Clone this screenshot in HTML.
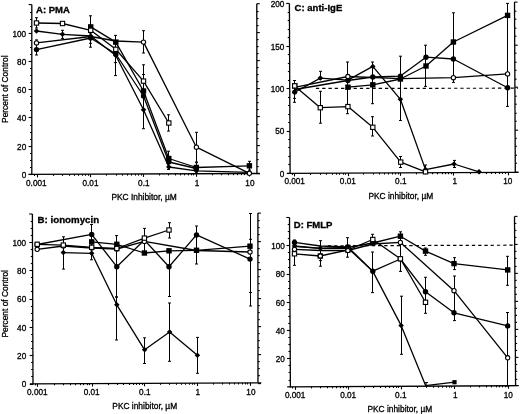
<!DOCTYPE html>
<html><head><meta charset="utf-8"><style>
html,body{margin:0;padding:0;background:#fff;width:520px;height:414px;overflow:hidden}
svg{display:block;will-change:transform}
text{font-family:"Liberation Sans",sans-serif}
</style></head><body>
<svg width="520" height="414" viewBox="0 0 520 414">
<rect width="520" height="414" fill="#fff"/>
<g stroke="#000" stroke-linecap="butt">
<line x1="31.8" y1="4.6" x2="31.8" y2="175" stroke-width="1.3"/>
<line x1="28.6" y1="174.41" x2="259.8" y2="173.49" stroke-width="1.3"/>
<line x1="256.8" y1="3.7" x2="256.9" y2="173.5" stroke-width="1.3"/>
<line x1="28.6" y1="174.5" x2="31.8" y2="174.5" stroke-width="1.1"/>
<line x1="256.9" y1="173.6" x2="259.9" y2="173.6" stroke-width="1.1"/>
<line x1="30" y1="167.5" x2="31.8" y2="167.5" stroke-width="1.1"/>
<line x1="256.9" y1="166.6" x2="258.7" y2="166.6" stroke-width="1.1"/>
<line x1="30" y1="160.5" x2="31.8" y2="160.5" stroke-width="1.1"/>
<line x1="256.89" y1="159.6" x2="258.69" y2="159.6" stroke-width="1.1"/>
<line x1="30" y1="153.5" x2="31.8" y2="153.5" stroke-width="1.1"/>
<line x1="256.89" y1="152.6" x2="258.69" y2="152.6" stroke-width="1.1"/>
<line x1="28.6" y1="146.5" x2="31.8" y2="146.5" stroke-width="1.1"/>
<line x1="256.88" y1="145.6" x2="259.88" y2="145.6" stroke-width="1.1"/>
<line x1="30" y1="139.5" x2="31.8" y2="139.5" stroke-width="1.1"/>
<line x1="256.88" y1="138.6" x2="258.68" y2="138.6" stroke-width="1.1"/>
<line x1="30" y1="132.5" x2="31.8" y2="132.5" stroke-width="1.1"/>
<line x1="256.87" y1="131.6" x2="258.67" y2="131.6" stroke-width="1.1"/>
<line x1="30" y1="125.5" x2="31.8" y2="125.5" stroke-width="1.1"/>
<line x1="256.87" y1="124.6" x2="258.67" y2="124.6" stroke-width="1.1"/>
<line x1="28.6" y1="117.5" x2="31.8" y2="117.5" stroke-width="1.1"/>
<line x1="256.87" y1="116.6" x2="259.87" y2="116.6" stroke-width="1.1"/>
<line x1="30" y1="110.5" x2="31.8" y2="110.5" stroke-width="1.1"/>
<line x1="256.86" y1="109.6" x2="258.66" y2="109.6" stroke-width="1.1"/>
<line x1="30" y1="103.5" x2="31.8" y2="103.5" stroke-width="1.1"/>
<line x1="256.86" y1="102.6" x2="258.66" y2="102.6" stroke-width="1.1"/>
<line x1="30" y1="96.5" x2="31.8" y2="96.5" stroke-width="1.1"/>
<line x1="256.85" y1="95.6" x2="258.65" y2="95.6" stroke-width="1.1"/>
<line x1="28.6" y1="89.5" x2="31.8" y2="89.5" stroke-width="1.1"/>
<line x1="256.85" y1="88.6" x2="259.85" y2="88.6" stroke-width="1.1"/>
<line x1="30" y1="82.5" x2="31.8" y2="82.5" stroke-width="1.1"/>
<line x1="256.85" y1="81.6" x2="258.65" y2="81.6" stroke-width="1.1"/>
<line x1="30" y1="75.5" x2="31.8" y2="75.5" stroke-width="1.1"/>
<line x1="256.84" y1="74.6" x2="258.64" y2="74.6" stroke-width="1.1"/>
<line x1="30" y1="68.5" x2="31.8" y2="68.5" stroke-width="1.1"/>
<line x1="256.84" y1="67.6" x2="258.64" y2="67.6" stroke-width="1.1"/>
<line x1="28.6" y1="61.5" x2="31.8" y2="61.5" stroke-width="1.1"/>
<line x1="256.83" y1="60.6" x2="259.83" y2="60.6" stroke-width="1.1"/>
<line x1="30" y1="54.5" x2="31.8" y2="54.5" stroke-width="1.1"/>
<line x1="256.83" y1="53.6" x2="258.63" y2="53.6" stroke-width="1.1"/>
<line x1="30" y1="47.5" x2="31.8" y2="47.5" stroke-width="1.1"/>
<line x1="256.82" y1="46.6" x2="258.62" y2="46.6" stroke-width="1.1"/>
<line x1="30" y1="40.5" x2="31.8" y2="40.5" stroke-width="1.1"/>
<line x1="256.82" y1="39.6" x2="258.62" y2="39.6" stroke-width="1.1"/>
<line x1="28.6" y1="33.5" x2="31.8" y2="33.5" stroke-width="1.1"/>
<line x1="256.82" y1="32.6" x2="259.82" y2="32.6" stroke-width="1.1"/>
<line x1="30" y1="26.5" x2="31.8" y2="26.5" stroke-width="1.1"/>
<line x1="256.81" y1="25.6" x2="258.61" y2="25.6" stroke-width="1.1"/>
<line x1="30" y1="19.5" x2="31.8" y2="19.5" stroke-width="1.1"/>
<line x1="256.81" y1="18.6" x2="258.61" y2="18.6" stroke-width="1.1"/>
<line x1="30" y1="12.5" x2="31.8" y2="12.5" stroke-width="1.1"/>
<line x1="256.8" y1="11.6" x2="258.6" y2="11.6" stroke-width="1.1"/>
<line x1="28.6" y1="4.6" x2="31.8" y2="4.6" stroke-width="1.1"/>
<line x1="256.8" y1="3.7" x2="259.8" y2="3.7" stroke-width="1.1"/>
<line x1="34.5" y1="174.39" x2="34.5" y2="175.99" stroke-width="1.1"/>
<line x1="37.5" y1="174.38" x2="37.5" y2="177.38" stroke-width="1.1"/>
<line x1="53.5" y1="174.31" x2="53.5" y2="175.91" stroke-width="1.1"/>
<line x1="62.5" y1="174.28" x2="62.5" y2="175.88" stroke-width="1.1"/>
<line x1="69.5" y1="174.25" x2="69.5" y2="175.85" stroke-width="1.1"/>
<line x1="74.5" y1="174.23" x2="74.5" y2="175.83" stroke-width="1.1"/>
<line x1="78.5" y1="174.21" x2="78.5" y2="175.81" stroke-width="1.1"/>
<line x1="82.5" y1="174.2" x2="82.5" y2="175.8" stroke-width="1.1"/>
<line x1="85.5" y1="174.19" x2="85.5" y2="175.79" stroke-width="1.1"/>
<line x1="88.5" y1="174.17" x2="88.5" y2="175.77" stroke-width="1.1"/>
<line x1="90.5" y1="174.17" x2="90.5" y2="177.17" stroke-width="1.1"/>
<line x1="106.5" y1="174.1" x2="106.5" y2="175.7" stroke-width="1.1"/>
<line x1="116.5" y1="174.06" x2="116.5" y2="175.66" stroke-width="1.1"/>
<line x1="122.5" y1="174.04" x2="122.5" y2="175.64" stroke-width="1.1"/>
<line x1="127.5" y1="174.02" x2="127.5" y2="175.62" stroke-width="1.1"/>
<line x1="131.5" y1="174" x2="131.5" y2="175.6" stroke-width="1.1"/>
<line x1="135.5" y1="173.99" x2="135.5" y2="175.59" stroke-width="1.1"/>
<line x1="138.5" y1="173.97" x2="138.5" y2="175.57" stroke-width="1.1"/>
<line x1="141.5" y1="173.96" x2="141.5" y2="175.56" stroke-width="1.1"/>
<line x1="143.5" y1="173.95" x2="143.5" y2="176.95" stroke-width="1.1"/>
<line x1="159.5" y1="173.89" x2="159.5" y2="175.49" stroke-width="1.1"/>
<line x1="168.5" y1="173.85" x2="168.5" y2="175.45" stroke-width="1.1"/>
<line x1="175.5" y1="173.83" x2="175.5" y2="175.43" stroke-width="1.1"/>
<line x1="180.5" y1="173.81" x2="180.5" y2="175.41" stroke-width="1.1"/>
<line x1="184.5" y1="173.79" x2="184.5" y2="175.39" stroke-width="1.1"/>
<line x1="188.5" y1="173.77" x2="188.5" y2="175.37" stroke-width="1.1"/>
<line x1="191.5" y1="173.76" x2="191.5" y2="175.36" stroke-width="1.1"/>
<line x1="193.5" y1="173.75" x2="193.5" y2="175.35" stroke-width="1.1"/>
<line x1="196.5" y1="173.74" x2="196.5" y2="176.74" stroke-width="1.1"/>
<line x1="212.5" y1="173.68" x2="212.5" y2="175.28" stroke-width="1.1"/>
<line x1="221.5" y1="173.64" x2="221.5" y2="175.24" stroke-width="1.1"/>
<line x1="228.5" y1="173.61" x2="228.5" y2="175.21" stroke-width="1.1"/>
<line x1="233.5" y1="173.59" x2="233.5" y2="175.19" stroke-width="1.1"/>
<line x1="237.5" y1="173.58" x2="237.5" y2="175.18" stroke-width="1.1"/>
<line x1="241.5" y1="173.56" x2="241.5" y2="175.16" stroke-width="1.1"/>
<line x1="244.5" y1="173.55" x2="244.5" y2="175.15" stroke-width="1.1"/>
<line x1="247.5" y1="173.54" x2="247.5" y2="175.14" stroke-width="1.1"/>
<line x1="249.5" y1="173.53" x2="249.5" y2="176.53" stroke-width="1.1"/>
<line x1="32.4" y1="214" x2="33" y2="384.4" stroke-width="1.3"/>
<line x1="29.8" y1="383.81" x2="261.3" y2="382.79" stroke-width="1.3"/>
<line x1="257.9" y1="213.1" x2="258" y2="382.8" stroke-width="1.3"/>
<line x1="29.8" y1="384.5" x2="33" y2="384.5" stroke-width="1.1"/>
<line x1="258" y1="383.6" x2="261" y2="383.6" stroke-width="1.1"/>
<line x1="31.17" y1="376.5" x2="32.97" y2="376.5" stroke-width="1.1"/>
<line x1="258" y1="375.6" x2="259.8" y2="375.6" stroke-width="1.1"/>
<line x1="31.15" y1="369.5" x2="32.95" y2="369.5" stroke-width="1.1"/>
<line x1="257.99" y1="368.6" x2="259.79" y2="368.6" stroke-width="1.1"/>
<line x1="31.12" y1="362.5" x2="32.92" y2="362.5" stroke-width="1.1"/>
<line x1="257.99" y1="361.6" x2="259.79" y2="361.6" stroke-width="1.1"/>
<line x1="29.7" y1="355.5" x2="32.9" y2="355.5" stroke-width="1.1"/>
<line x1="257.98" y1="354.6" x2="260.98" y2="354.6" stroke-width="1.1"/>
<line x1="31.08" y1="348.5" x2="32.88" y2="348.5" stroke-width="1.1"/>
<line x1="257.98" y1="347.6" x2="259.78" y2="347.6" stroke-width="1.1"/>
<line x1="31.05" y1="341.5" x2="32.85" y2="341.5" stroke-width="1.1"/>
<line x1="257.97" y1="340.6" x2="259.77" y2="340.6" stroke-width="1.1"/>
<line x1="31.03" y1="334.5" x2="32.83" y2="334.5" stroke-width="1.1"/>
<line x1="257.97" y1="333.6" x2="259.77" y2="333.6" stroke-width="1.1"/>
<line x1="29.6" y1="327.5" x2="32.8" y2="327.5" stroke-width="1.1"/>
<line x1="257.97" y1="326.6" x2="260.97" y2="326.6" stroke-width="1.1"/>
<line x1="30.98" y1="320.5" x2="32.78" y2="320.5" stroke-width="1.1"/>
<line x1="257.96" y1="319.6" x2="259.76" y2="319.6" stroke-width="1.1"/>
<line x1="30.95" y1="313.5" x2="32.75" y2="313.5" stroke-width="1.1"/>
<line x1="257.96" y1="312.6" x2="259.76" y2="312.6" stroke-width="1.1"/>
<line x1="30.93" y1="306.5" x2="32.73" y2="306.5" stroke-width="1.1"/>
<line x1="257.95" y1="305.6" x2="259.75" y2="305.6" stroke-width="1.1"/>
<line x1="29.5" y1="299.5" x2="32.7" y2="299.5" stroke-width="1.1"/>
<line x1="257.95" y1="298.6" x2="260.95" y2="298.6" stroke-width="1.1"/>
<line x1="30.87" y1="291.5" x2="32.67" y2="291.5" stroke-width="1.1"/>
<line x1="257.95" y1="290.6" x2="259.75" y2="290.6" stroke-width="1.1"/>
<line x1="30.85" y1="284.5" x2="32.65" y2="284.5" stroke-width="1.1"/>
<line x1="257.94" y1="283.6" x2="259.74" y2="283.6" stroke-width="1.1"/>
<line x1="30.82" y1="277.5" x2="32.62" y2="277.5" stroke-width="1.1"/>
<line x1="257.94" y1="276.6" x2="259.74" y2="276.6" stroke-width="1.1"/>
<line x1="29.4" y1="270.5" x2="32.6" y2="270.5" stroke-width="1.1"/>
<line x1="257.93" y1="269.6" x2="260.93" y2="269.6" stroke-width="1.1"/>
<line x1="30.77" y1="263.5" x2="32.57" y2="263.5" stroke-width="1.1"/>
<line x1="257.93" y1="262.6" x2="259.73" y2="262.6" stroke-width="1.1"/>
<line x1="30.75" y1="256.5" x2="32.55" y2="256.5" stroke-width="1.1"/>
<line x1="257.92" y1="255.6" x2="259.72" y2="255.6" stroke-width="1.1"/>
<line x1="30.73" y1="249.5" x2="32.53" y2="249.5" stroke-width="1.1"/>
<line x1="257.92" y1="248.6" x2="259.72" y2="248.6" stroke-width="1.1"/>
<line x1="29.3" y1="242.5" x2="32.5" y2="242.5" stroke-width="1.1"/>
<line x1="257.92" y1="241.6" x2="260.92" y2="241.6" stroke-width="1.1"/>
<line x1="30.68" y1="235.5" x2="32.48" y2="235.5" stroke-width="1.1"/>
<line x1="257.91" y1="234.6" x2="259.71" y2="234.6" stroke-width="1.1"/>
<line x1="30.65" y1="228.5" x2="32.45" y2="228.5" stroke-width="1.1"/>
<line x1="257.91" y1="227.6" x2="259.71" y2="227.6" stroke-width="1.1"/>
<line x1="30.63" y1="221.5" x2="32.43" y2="221.5" stroke-width="1.1"/>
<line x1="257.9" y1="220.6" x2="259.7" y2="220.6" stroke-width="1.1"/>
<line x1="29.2" y1="214" x2="32.4" y2="214" stroke-width="1.1"/>
<line x1="257.9" y1="213.1" x2="260.9" y2="213.1" stroke-width="1.1"/>
<line x1="35.5" y1="383.79" x2="35.5" y2="385.39" stroke-width="1.1"/>
<line x1="37.5" y1="383.78" x2="37.5" y2="386.78" stroke-width="1.1"/>
<line x1="54.5" y1="383.7" x2="54.5" y2="385.3" stroke-width="1.1"/>
<line x1="63.5" y1="383.66" x2="63.5" y2="385.26" stroke-width="1.1"/>
<line x1="70.5" y1="383.63" x2="70.5" y2="385.23" stroke-width="1.1"/>
<line x1="75.5" y1="383.61" x2="75.5" y2="385.21" stroke-width="1.1"/>
<line x1="80.5" y1="383.59" x2="80.5" y2="385.19" stroke-width="1.1"/>
<line x1="83.5" y1="383.58" x2="83.5" y2="385.18" stroke-width="1.1"/>
<line x1="87.5" y1="383.56" x2="87.5" y2="385.16" stroke-width="1.1"/>
<line x1="89.5" y1="383.55" x2="89.5" y2="385.15" stroke-width="1.1"/>
<line x1="92.5" y1="383.54" x2="92.5" y2="386.54" stroke-width="1.1"/>
<line x1="108.5" y1="383.46" x2="108.5" y2="385.06" stroke-width="1.1"/>
<line x1="117.5" y1="383.42" x2="117.5" y2="385.02" stroke-width="1.1"/>
<line x1="123.5" y1="383.4" x2="123.5" y2="385" stroke-width="1.1"/>
<line x1="129.5" y1="383.37" x2="129.5" y2="384.97" stroke-width="1.1"/>
<line x1="133.5" y1="383.35" x2="133.5" y2="384.95" stroke-width="1.1"/>
<line x1="136.5" y1="383.34" x2="136.5" y2="384.94" stroke-width="1.1"/>
<line x1="139.5" y1="383.33" x2="139.5" y2="384.93" stroke-width="1.1"/>
<line x1="142.5" y1="383.31" x2="142.5" y2="384.91" stroke-width="1.1"/>
<line x1="144.5" y1="383.3" x2="144.5" y2="386.3" stroke-width="1.1"/>
<line x1="160.5" y1="383.23" x2="160.5" y2="384.83" stroke-width="1.1"/>
<line x1="169.5" y1="383.19" x2="169.5" y2="384.79" stroke-width="1.1"/>
<line x1="176.5" y1="383.16" x2="176.5" y2="384.76" stroke-width="1.1"/>
<line x1="181.5" y1="383.14" x2="181.5" y2="384.74" stroke-width="1.1"/>
<line x1="185.5" y1="383.12" x2="185.5" y2="384.72" stroke-width="1.1"/>
<line x1="189.5" y1="383.1" x2="189.5" y2="384.7" stroke-width="1.1"/>
<line x1="192.5" y1="383.09" x2="192.5" y2="384.69" stroke-width="1.1"/>
<line x1="194.5" y1="383.08" x2="194.5" y2="384.68" stroke-width="1.1"/>
<line x1="197.5" y1="383.07" x2="197.5" y2="386.07" stroke-width="1.1"/>
<line x1="213.5" y1="383" x2="213.5" y2="384.6" stroke-width="1.1"/>
<line x1="222.5" y1="382.96" x2="222.5" y2="384.56" stroke-width="1.1"/>
<line x1="229.5" y1="382.93" x2="229.5" y2="384.53" stroke-width="1.1"/>
<line x1="234.5" y1="382.9" x2="234.5" y2="384.5" stroke-width="1.1"/>
<line x1="238.5" y1="382.89" x2="238.5" y2="384.49" stroke-width="1.1"/>
<line x1="242.5" y1="382.87" x2="242.5" y2="384.47" stroke-width="1.1"/>
<line x1="245.5" y1="382.86" x2="245.5" y2="384.46" stroke-width="1.1"/>
<line x1="247.5" y1="382.85" x2="247.5" y2="384.45" stroke-width="1.1"/>
<line x1="250.5" y1="382.83" x2="250.5" y2="385.83" stroke-width="1.1"/>
<line x1="289.4" y1="3.4" x2="290.1" y2="174" stroke-width="1.3"/>
<line x1="286.9" y1="173.42" x2="518.6" y2="172.28" stroke-width="1.3"/>
<line x1="514.5" y1="2.1" x2="515.3" y2="172.3" stroke-width="1.3"/>
<line x1="286.9" y1="173.5" x2="290.1" y2="173.5" stroke-width="1.1"/>
<line x1="515.29" y1="172.2" x2="518.29" y2="172.2" stroke-width="1.1"/>
<line x1="288.26" y1="164.5" x2="290.06" y2="164.5" stroke-width="1.1"/>
<line x1="515.25" y1="163.2" x2="517.05" y2="163.2" stroke-width="1.1"/>
<line x1="288.23" y1="156.5" x2="290.03" y2="156.5" stroke-width="1.1"/>
<line x1="515.21" y1="155.2" x2="517.01" y2="155.2" stroke-width="1.1"/>
<line x1="288.19" y1="147.5" x2="289.99" y2="147.5" stroke-width="1.1"/>
<line x1="515.17" y1="146.2" x2="516.97" y2="146.2" stroke-width="1.1"/>
<line x1="288.16" y1="139.5" x2="289.96" y2="139.5" stroke-width="1.1"/>
<line x1="515.13" y1="138.2" x2="516.93" y2="138.2" stroke-width="1.1"/>
<line x1="286.73" y1="131.5" x2="289.93" y2="131.5" stroke-width="1.1"/>
<line x1="515.1" y1="130.2" x2="518.1" y2="130.2" stroke-width="1.1"/>
<line x1="288.09" y1="122.5" x2="289.89" y2="122.5" stroke-width="1.1"/>
<line x1="515.05" y1="121.2" x2="516.85" y2="121.2" stroke-width="1.1"/>
<line x1="288.06" y1="114.5" x2="289.86" y2="114.5" stroke-width="1.1"/>
<line x1="515.02" y1="113.2" x2="516.82" y2="113.2" stroke-width="1.1"/>
<line x1="288.02" y1="105.5" x2="289.82" y2="105.5" stroke-width="1.1"/>
<line x1="514.97" y1="104.2" x2="516.77" y2="104.2" stroke-width="1.1"/>
<line x1="287.99" y1="97.5" x2="289.79" y2="97.5" stroke-width="1.1"/>
<line x1="514.94" y1="96.2" x2="516.74" y2="96.2" stroke-width="1.1"/>
<line x1="286.55" y1="88.5" x2="289.75" y2="88.5" stroke-width="1.1"/>
<line x1="514.89" y1="87.2" x2="517.89" y2="87.2" stroke-width="1.1"/>
<line x1="287.92" y1="80.5" x2="289.72" y2="80.5" stroke-width="1.1"/>
<line x1="514.86" y1="79.2" x2="516.66" y2="79.2" stroke-width="1.1"/>
<line x1="287.88" y1="71.5" x2="289.68" y2="71.5" stroke-width="1.1"/>
<line x1="514.81" y1="70.2" x2="516.61" y2="70.2" stroke-width="1.1"/>
<line x1="287.85" y1="63.5" x2="289.65" y2="63.5" stroke-width="1.1"/>
<line x1="514.78" y1="62.2" x2="516.58" y2="62.2" stroke-width="1.1"/>
<line x1="287.81" y1="54.5" x2="289.61" y2="54.5" stroke-width="1.1"/>
<line x1="514.73" y1="53.2" x2="516.53" y2="53.2" stroke-width="1.1"/>
<line x1="286.38" y1="46.5" x2="289.58" y2="46.5" stroke-width="1.1"/>
<line x1="514.7" y1="45.2" x2="517.7" y2="45.2" stroke-width="1.1"/>
<line x1="287.74" y1="37.5" x2="289.54" y2="37.5" stroke-width="1.1"/>
<line x1="514.65" y1="36.2" x2="516.45" y2="36.2" stroke-width="1.1"/>
<line x1="287.71" y1="29.5" x2="289.51" y2="29.5" stroke-width="1.1"/>
<line x1="514.62" y1="28.2" x2="516.42" y2="28.2" stroke-width="1.1"/>
<line x1="287.67" y1="20.5" x2="289.47" y2="20.5" stroke-width="1.1"/>
<line x1="514.57" y1="19.2" x2="516.37" y2="19.2" stroke-width="1.1"/>
<line x1="287.64" y1="12.5" x2="289.44" y2="12.5" stroke-width="1.1"/>
<line x1="514.54" y1="11.2" x2="516.34" y2="11.2" stroke-width="1.1"/>
<line x1="286.2" y1="3.4" x2="289.4" y2="3.4" stroke-width="1.1"/>
<line x1="514.5" y1="2.1" x2="517.5" y2="2.1" stroke-width="1.1"/>
<line x1="292.5" y1="173.39" x2="292.5" y2="174.99" stroke-width="1.1"/>
<line x1="294.5" y1="173.38" x2="294.5" y2="176.38" stroke-width="1.1"/>
<line x1="310.5" y1="173.3" x2="310.5" y2="174.9" stroke-width="1.1"/>
<line x1="320.5" y1="173.25" x2="320.5" y2="174.85" stroke-width="1.1"/>
<line x1="326.5" y1="173.22" x2="326.5" y2="174.82" stroke-width="1.1"/>
<line x1="332.5" y1="173.19" x2="332.5" y2="174.79" stroke-width="1.1"/>
<line x1="336.5" y1="173.17" x2="336.5" y2="174.77" stroke-width="1.1"/>
<line x1="339.5" y1="173.16" x2="339.5" y2="174.76" stroke-width="1.1"/>
<line x1="343.5" y1="173.14" x2="343.5" y2="174.74" stroke-width="1.1"/>
<line x1="345.5" y1="173.13" x2="345.5" y2="174.73" stroke-width="1.1"/>
<line x1="348.5" y1="173.11" x2="348.5" y2="176.11" stroke-width="1.1"/>
<line x1="363.5" y1="173.04" x2="363.5" y2="174.64" stroke-width="1.1"/>
<line x1="373.5" y1="172.99" x2="373.5" y2="174.59" stroke-width="1.1"/>
<line x1="379.5" y1="172.96" x2="379.5" y2="174.56" stroke-width="1.1"/>
<line x1="384.5" y1="172.94" x2="384.5" y2="174.54" stroke-width="1.1"/>
<line x1="388.5" y1="172.92" x2="388.5" y2="174.52" stroke-width="1.1"/>
<line x1="392.5" y1="172.9" x2="392.5" y2="174.5" stroke-width="1.1"/>
<line x1="395.5" y1="172.89" x2="395.5" y2="174.49" stroke-width="1.1"/>
<line x1="398.5" y1="172.87" x2="398.5" y2="174.47" stroke-width="1.1"/>
<line x1="400.5" y1="172.86" x2="400.5" y2="175.86" stroke-width="1.1"/>
<line x1="416.5" y1="172.78" x2="416.5" y2="174.38" stroke-width="1.1"/>
<line x1="425.5" y1="172.74" x2="425.5" y2="174.34" stroke-width="1.1"/>
<line x1="432.5" y1="172.7" x2="432.5" y2="174.3" stroke-width="1.1"/>
<line x1="437.5" y1="172.68" x2="437.5" y2="174.28" stroke-width="1.1"/>
<line x1="442.5" y1="172.66" x2="442.5" y2="174.26" stroke-width="1.1"/>
<line x1="445.5" y1="172.64" x2="445.5" y2="174.24" stroke-width="1.1"/>
<line x1="448.5" y1="172.63" x2="448.5" y2="174.23" stroke-width="1.1"/>
<line x1="451.5" y1="172.61" x2="451.5" y2="174.21" stroke-width="1.1"/>
<line x1="453.5" y1="172.6" x2="453.5" y2="175.6" stroke-width="1.1"/>
<line x1="470.5" y1="172.52" x2="470.5" y2="174.12" stroke-width="1.1"/>
<line x1="479.5" y1="172.47" x2="479.5" y2="174.07" stroke-width="1.1"/>
<line x1="486.5" y1="172.44" x2="486.5" y2="174.04" stroke-width="1.1"/>
<line x1="491.5" y1="172.42" x2="491.5" y2="174.02" stroke-width="1.1"/>
<line x1="495.5" y1="172.4" x2="495.5" y2="174" stroke-width="1.1"/>
<line x1="499.5" y1="172.38" x2="499.5" y2="173.98" stroke-width="1.1"/>
<line x1="502.5" y1="172.36" x2="502.5" y2="173.96" stroke-width="1.1"/>
<line x1="505.5" y1="172.35" x2="505.5" y2="173.95" stroke-width="1.1"/>
<line x1="508.5" y1="172.33" x2="508.5" y2="175.33" stroke-width="1.1"/>
<line x1="289.5" y1="217.5" x2="290.4" y2="387.5" stroke-width="1.3"/>
<line x1="287.2" y1="386.92" x2="518.8" y2="385.68" stroke-width="1.3"/>
<line x1="514.5" y1="216.4" x2="515.6" y2="385.7" stroke-width="1.3"/>
<line x1="288.57" y1="380.5" x2="290.37" y2="380.5" stroke-width="1.1"/>
<line x1="515.55" y1="379.4" x2="517.35" y2="379.4" stroke-width="1.1"/>
<line x1="288.52" y1="372.5" x2="290.32" y2="372.5" stroke-width="1.1"/>
<line x1="515.5" y1="371.4" x2="517.3" y2="371.4" stroke-width="1.1"/>
<line x1="288.49" y1="365.5" x2="290.29" y2="365.5" stroke-width="1.1"/>
<line x1="515.45" y1="364.4" x2="517.25" y2="364.4" stroke-width="1.1"/>
<line x1="287.05" y1="358.5" x2="290.25" y2="358.5" stroke-width="1.1"/>
<line x1="515.41" y1="357.4" x2="518.41" y2="357.4" stroke-width="1.1"/>
<line x1="288.41" y1="351.5" x2="290.21" y2="351.5" stroke-width="1.1"/>
<line x1="515.36" y1="350.4" x2="517.16" y2="350.4" stroke-width="1.1"/>
<line x1="288.37" y1="344.5" x2="290.17" y2="344.5" stroke-width="1.1"/>
<line x1="515.32" y1="343.4" x2="517.12" y2="343.4" stroke-width="1.1"/>
<line x1="288.34" y1="337.5" x2="290.14" y2="337.5" stroke-width="1.1"/>
<line x1="515.27" y1="336.4" x2="517.07" y2="336.4" stroke-width="1.1"/>
<line x1="286.9" y1="330.5" x2="290.1" y2="330.5" stroke-width="1.1"/>
<line x1="515.23" y1="329.4" x2="518.23" y2="329.4" stroke-width="1.1"/>
<line x1="288.26" y1="323.5" x2="290.06" y2="323.5" stroke-width="1.1"/>
<line x1="515.18" y1="322.4" x2="516.98" y2="322.4" stroke-width="1.1"/>
<line x1="288.23" y1="316.5" x2="290.03" y2="316.5" stroke-width="1.1"/>
<line x1="515.14" y1="315.4" x2="516.94" y2="315.4" stroke-width="1.1"/>
<line x1="288.19" y1="309.5" x2="289.99" y2="309.5" stroke-width="1.1"/>
<line x1="515.09" y1="308.4" x2="516.89" y2="308.4" stroke-width="1.1"/>
<line x1="286.75" y1="302.5" x2="289.95" y2="302.5" stroke-width="1.1"/>
<line x1="515.04" y1="301.4" x2="518.04" y2="301.4" stroke-width="1.1"/>
<line x1="288.11" y1="295.5" x2="289.91" y2="295.5" stroke-width="1.1"/>
<line x1="515" y1="294.4" x2="516.8" y2="294.4" stroke-width="1.1"/>
<line x1="288.08" y1="288.5" x2="289.88" y2="288.5" stroke-width="1.1"/>
<line x1="514.95" y1="287.4" x2="516.75" y2="287.4" stroke-width="1.1"/>
<line x1="288.04" y1="281.5" x2="289.84" y2="281.5" stroke-width="1.1"/>
<line x1="514.91" y1="280.4" x2="516.71" y2="280.4" stroke-width="1.1"/>
<line x1="286.6" y1="274.5" x2="289.8" y2="274.5" stroke-width="1.1"/>
<line x1="514.86" y1="273.4" x2="517.86" y2="273.4" stroke-width="1.1"/>
<line x1="287.97" y1="267.5" x2="289.77" y2="267.5" stroke-width="1.1"/>
<line x1="514.82" y1="266.4" x2="516.62" y2="266.4" stroke-width="1.1"/>
<line x1="287.92" y1="259.5" x2="289.72" y2="259.5" stroke-width="1.1"/>
<line x1="514.77" y1="258.4" x2="516.57" y2="258.4" stroke-width="1.1"/>
<line x1="287.89" y1="252.5" x2="289.69" y2="252.5" stroke-width="1.1"/>
<line x1="514.72" y1="251.4" x2="516.52" y2="251.4" stroke-width="1.1"/>
<line x1="286.45" y1="245.5" x2="289.65" y2="245.5" stroke-width="1.1"/>
<line x1="514.67" y1="244.4" x2="517.67" y2="244.4" stroke-width="1.1"/>
<line x1="287.81" y1="238.5" x2="289.61" y2="238.5" stroke-width="1.1"/>
<line x1="514.63" y1="237.4" x2="516.43" y2="237.4" stroke-width="1.1"/>
<line x1="287.77" y1="231.5" x2="289.57" y2="231.5" stroke-width="1.1"/>
<line x1="514.58" y1="230.4" x2="516.38" y2="230.4" stroke-width="1.1"/>
<line x1="287.74" y1="224.5" x2="289.54" y2="224.5" stroke-width="1.1"/>
<line x1="514.54" y1="223.4" x2="516.34" y2="223.4" stroke-width="1.1"/>
<line x1="286.3" y1="217.5" x2="289.5" y2="217.5" stroke-width="1.1"/>
<line x1="514.5" y1="216.4" x2="517.5" y2="216.4" stroke-width="1.1"/>
<line x1="292.5" y1="386.89" x2="292.5" y2="388.49" stroke-width="1.1"/>
<line x1="295.5" y1="386.87" x2="295.5" y2="389.87" stroke-width="1.1"/>
<line x1="311.5" y1="386.79" x2="311.5" y2="388.39" stroke-width="1.1"/>
<line x1="320.5" y1="386.74" x2="320.5" y2="388.34" stroke-width="1.1"/>
<line x1="327.5" y1="386.7" x2="327.5" y2="388.3" stroke-width="1.1"/>
<line x1="332.5" y1="386.68" x2="332.5" y2="388.28" stroke-width="1.1"/>
<line x1="336.5" y1="386.65" x2="336.5" y2="388.25" stroke-width="1.1"/>
<line x1="340.5" y1="386.63" x2="340.5" y2="388.23" stroke-width="1.1"/>
<line x1="343.5" y1="386.62" x2="343.5" y2="388.22" stroke-width="1.1"/>
<line x1="346.5" y1="386.6" x2="346.5" y2="388.2" stroke-width="1.1"/>
<line x1="348.5" y1="386.59" x2="348.5" y2="389.59" stroke-width="1.1"/>
<line x1="364.5" y1="386.51" x2="364.5" y2="388.11" stroke-width="1.1"/>
<line x1="373.5" y1="386.46" x2="373.5" y2="388.06" stroke-width="1.1"/>
<line x1="380.5" y1="386.42" x2="380.5" y2="388.02" stroke-width="1.1"/>
<line x1="385.5" y1="386.39" x2="385.5" y2="387.99" stroke-width="1.1"/>
<line x1="389.5" y1="386.37" x2="389.5" y2="387.97" stroke-width="1.1"/>
<line x1="393.5" y1="386.35" x2="393.5" y2="387.95" stroke-width="1.1"/>
<line x1="396.5" y1="386.33" x2="396.5" y2="387.93" stroke-width="1.1"/>
<line x1="398.5" y1="386.32" x2="398.5" y2="387.92" stroke-width="1.1"/>
<line x1="401.5" y1="386.31" x2="401.5" y2="389.31" stroke-width="1.1"/>
<line x1="417.5" y1="386.22" x2="417.5" y2="387.82" stroke-width="1.1"/>
<line x1="426.5" y1="386.17" x2="426.5" y2="387.77" stroke-width="1.1"/>
<line x1="433.5" y1="386.14" x2="433.5" y2="387.74" stroke-width="1.1"/>
<line x1="438.5" y1="386.11" x2="438.5" y2="387.71" stroke-width="1.1"/>
<line x1="442.5" y1="386.09" x2="442.5" y2="387.69" stroke-width="1.1"/>
<line x1="446.5" y1="386.07" x2="446.5" y2="387.67" stroke-width="1.1"/>
<line x1="449.5" y1="386.05" x2="449.5" y2="387.65" stroke-width="1.1"/>
<line x1="451.5" y1="386.04" x2="451.5" y2="387.64" stroke-width="1.1"/>
<line x1="454.5" y1="386.03" x2="454.5" y2="389.03" stroke-width="1.1"/>
<line x1="470.5" y1="385.94" x2="470.5" y2="387.54" stroke-width="1.1"/>
<line x1="479.5" y1="385.89" x2="479.5" y2="387.49" stroke-width="1.1"/>
<line x1="486.5" y1="385.86" x2="486.5" y2="387.46" stroke-width="1.1"/>
<line x1="491.5" y1="385.83" x2="491.5" y2="387.43" stroke-width="1.1"/>
<line x1="496.5" y1="385.8" x2="496.5" y2="387.4" stroke-width="1.1"/>
<line x1="499.5" y1="385.79" x2="499.5" y2="387.39" stroke-width="1.1"/>
<line x1="502.5" y1="385.77" x2="502.5" y2="387.37" stroke-width="1.1"/>
<line x1="505.5" y1="385.75" x2="505.5" y2="387.35" stroke-width="1.1"/>
<line x1="508.5" y1="385.74" x2="508.5" y2="388.74" stroke-width="1.1"/>
</g>
<g font-family="Liberation Sans, sans-serif" fill="#000" stroke="#000" stroke-width="0.3">
<text x="0" y="0" font-size="9" font-weight="bold" transform="translate(36 13.3) scale(1.06 1)">A: PMA</text>
<text x="0" y="0" font-size="9" font-weight="bold" transform="translate(37.6 223.2) scale(1.08 1)">B: ionomycin</text>
<text x="0" y="0" font-size="9" font-weight="bold" transform="translate(294.6 11.2) scale(1.06 1)">C: anti-IgE</text>
<text x="0" y="0" font-size="9" font-weight="bold" transform="translate(293.8 228.2) scale(1.06 1)">D: FMLP</text>
<text x="26.2" y="177.75" font-size="8.2" text-anchor="end" font-weight="normal">0</text>
<text x="26.2" y="149.5" font-size="8.2" text-anchor="end" font-weight="normal">20</text>
<text x="26.2" y="121.25" font-size="8.2" text-anchor="end" font-weight="normal">40</text>
<text x="26.2" y="93" font-size="8.2" text-anchor="end" font-weight="normal">60</text>
<text x="26.2" y="64.75" font-size="8.2" text-anchor="end" font-weight="normal">80</text>
<text x="26.2" y="36.5" font-size="8.2" text-anchor="end" font-weight="normal">100</text>
<text x="26.2" y="387.3" font-size="8.2" text-anchor="end" font-weight="normal">0</text>
<text x="26.2" y="358.98" font-size="8.2" text-anchor="end" font-weight="normal">20</text>
<text x="26.2" y="330.66" font-size="8.2" text-anchor="end" font-weight="normal">40</text>
<text x="26.2" y="302.34" font-size="8.2" text-anchor="end" font-weight="normal">60</text>
<text x="26.2" y="274.02" font-size="8.2" text-anchor="end" font-weight="normal">80</text>
<text x="26.2" y="245.7" font-size="8.2" text-anchor="end" font-weight="normal">100</text>
<text x="284.3" y="176.7" font-size="8.2" text-anchor="end" font-weight="normal">0</text>
<text x="284.3" y="134.37" font-size="8.2" text-anchor="end" font-weight="normal">50</text>
<text x="284.3" y="92.03" font-size="8.2" text-anchor="end" font-weight="normal">100</text>
<text x="284.3" y="49.7" font-size="8.2" text-anchor="end" font-weight="normal">150</text>
<text x="284.3" y="7.36" font-size="8.2" text-anchor="end" font-weight="normal">200</text>
<text x="284.9" y="362.15" font-size="8.2" text-anchor="end" font-weight="normal">20</text>
<text x="284.9" y="333.9" font-size="8.2" text-anchor="end" font-weight="normal">40</text>
<text x="284.9" y="305.65" font-size="8.2" text-anchor="end" font-weight="normal">60</text>
<text x="284.9" y="277.4" font-size="8.2" text-anchor="end" font-weight="normal">80</text>
<text x="284.9" y="249.15" font-size="8.2" text-anchor="end" font-weight="normal">100</text>
<text x="36.3" y="185.8" font-size="8.2" text-anchor="middle" font-weight="normal">0.001</text>
<text x="90.5" y="185.8" font-size="8.2" text-anchor="middle" font-weight="normal">0.01</text>
<text x="143.8" y="185.8" font-size="8.2" text-anchor="middle" font-weight="normal">0.1</text>
<text x="197.1" y="185.8" font-size="8.2" text-anchor="middle" font-weight="normal">1</text>
<text x="249.9" y="185.8" font-size="8.2" text-anchor="middle" font-weight="normal">10</text>
<text x="37.3" y="395.1" font-size="8.2" text-anchor="middle" font-weight="normal">0.001</text>
<text x="91.7" y="395.1" font-size="8.2" text-anchor="middle" font-weight="normal">0.01</text>
<text x="144.8" y="395.1" font-size="8.2" text-anchor="middle" font-weight="normal">0.1</text>
<text x="197.7" y="395.1" font-size="8.2" text-anchor="middle" font-weight="normal">1</text>
<text x="250.9" y="395.1" font-size="8.2" text-anchor="middle" font-weight="normal">10</text>
<text x="294.7" y="184" font-size="8.2" text-anchor="middle" font-weight="normal">0.001</text>
<text x="347.8" y="184" font-size="8.2" text-anchor="middle" font-weight="normal">0.01</text>
<text x="400.8" y="184" font-size="8.2" text-anchor="middle" font-weight="normal">0.1</text>
<text x="454.8" y="184" font-size="8.2" text-anchor="middle" font-weight="normal">1</text>
<text x="507.8" y="184" font-size="8.2" text-anchor="middle" font-weight="normal">10</text>
<text x="295.2" y="397.6" font-size="8.2" text-anchor="middle" font-weight="normal">0.001</text>
<text x="348.1" y="397.6" font-size="8.2" text-anchor="middle" font-weight="normal">0.01</text>
<text x="400.8" y="397.6" font-size="8.2" text-anchor="middle" font-weight="normal">0.1</text>
<text x="455.4" y="397.6" font-size="8.2" text-anchor="middle" font-weight="normal">1</text>
<text x="508.3" y="397.6" font-size="8.2" text-anchor="middle" font-weight="normal">10</text>
<text x="111.4" y="200.3" font-size="8.4" text-anchor="start" font-weight="normal">PKC Inhibitor, µM</text>
<text x="112.3" y="409.3" font-size="8.4" text-anchor="start" font-weight="normal">PKC inhibitor, µM</text>
<text x="368.4" y="198.6" font-size="8.4" text-anchor="start" font-weight="normal">PKC inhibitor, µM</text>
<text x="367.4" y="412" font-size="8.4" text-anchor="start" font-weight="normal">PKC inhibitor, µM</text>
<text x="0" y="0" font-size="8.4" text-anchor="middle" font-weight="normal" transform="translate(7.5 89.2) rotate(-90)">Percent of Control</text>
<text x="0" y="0" font-size="8.4" text-anchor="middle" font-weight="normal" transform="translate(8.3 303.8) rotate(-90)">Percent of Control</text>
</g>
<g stroke="#000">
<line x1="315.9" y1="88.4" x2="518" y2="88.2" stroke-width="1.2" stroke-dasharray="3.3 2.98"/>
<line x1="327.9" y1="245.8" x2="514" y2="245.2" stroke-width="1.2" stroke-dasharray="3.3 2.96"/>
</g>
<g stroke="#000">
<line x1="36.5" y1="17.7" x2="36.5" y2="28" stroke-width="1"/>
<line x1="35" y1="17.7" x2="38" y2="17.7" stroke-width="1"/>
<line x1="35" y1="28" x2="38" y2="28" stroke-width="1"/>
<line x1="36.5" y1="39.9" x2="36.5" y2="55" stroke-width="1"/>
<line x1="35" y1="39.9" x2="38" y2="39.9" stroke-width="1"/>
<line x1="35" y1="55" x2="38" y2="55" stroke-width="1"/>
<line x1="62.5" y1="30.3" x2="62.5" y2="38.4" stroke-width="1"/>
<line x1="61" y1="30.3" x2="64" y2="30.3" stroke-width="1"/>
<line x1="61" y1="38.4" x2="64" y2="38.4" stroke-width="1"/>
<line x1="90.5" y1="15.8" x2="90.5" y2="47.2" stroke-width="1"/>
<line x1="89" y1="15.8" x2="92" y2="15.8" stroke-width="1"/>
<line x1="89" y1="47.2" x2="92" y2="47.2" stroke-width="1"/>
<line x1="90.5" y1="33" x2="90.5" y2="43.3" stroke-width="1"/>
<line x1="89" y1="33" x2="92" y2="33" stroke-width="1"/>
<line x1="89" y1="43.3" x2="92" y2="43.3" stroke-width="1"/>
<line x1="115.5" y1="35.4" x2="115.5" y2="75.6" stroke-width="1"/>
<line x1="114" y1="35.4" x2="117" y2="35.4" stroke-width="1"/>
<line x1="114" y1="75.6" x2="117" y2="75.6" stroke-width="1"/>
<line x1="115.5" y1="50" x2="115.5" y2="62.6" stroke-width="1"/>
<line x1="114" y1="50" x2="117" y2="50" stroke-width="1"/>
<line x1="114" y1="62.6" x2="117" y2="62.6" stroke-width="1"/>
<line x1="143.5" y1="30.7" x2="143.5" y2="53" stroke-width="1"/>
<line x1="142" y1="30.7" x2="145" y2="30.7" stroke-width="1"/>
<line x1="142" y1="53" x2="145" y2="53" stroke-width="1"/>
<line x1="143.5" y1="64.8" x2="143.5" y2="128.7" stroke-width="1"/>
<line x1="142" y1="64.8" x2="145" y2="64.8" stroke-width="1"/>
<line x1="142" y1="128.7" x2="145" y2="128.7" stroke-width="1"/>
<line x1="143.5" y1="74.5" x2="143.5" y2="80" stroke-width="1"/>
<line x1="142" y1="74.5" x2="145" y2="74.5" stroke-width="1"/>
<line x1="142" y1="80" x2="145" y2="80" stroke-width="1"/>
<line x1="168.5" y1="114.8" x2="168.5" y2="131.1" stroke-width="1"/>
<line x1="167" y1="114.8" x2="170" y2="114.8" stroke-width="1"/>
<line x1="167" y1="131.1" x2="170" y2="131.1" stroke-width="1"/>
<line x1="168.5" y1="151.2" x2="168.5" y2="169.5" stroke-width="1"/>
<line x1="167" y1="151.2" x2="170" y2="151.2" stroke-width="1"/>
<line x1="167" y1="169.5" x2="170" y2="169.5" stroke-width="1"/>
<line x1="196.5" y1="162.7" x2="196.5" y2="172" stroke-width="1"/>
<line x1="195" y1="162.7" x2="198" y2="162.7" stroke-width="1"/>
<line x1="195" y1="172" x2="198" y2="172" stroke-width="1"/>
<line x1="196.5" y1="132.3" x2="196.5" y2="162" stroke-width="1"/>
<line x1="195" y1="132.3" x2="198" y2="132.3" stroke-width="1"/>
<line x1="195" y1="162" x2="198" y2="162" stroke-width="1"/>
<line x1="249.5" y1="161.3" x2="249.5" y2="170" stroke-width="1"/>
<line x1="248" y1="161.3" x2="251" y2="161.3" stroke-width="1"/>
<line x1="248" y1="170" x2="251" y2="170" stroke-width="1"/>
<path d="M36.5 23 L62.5 23.5 L90.7 30.3 L115.8 49.3 L143.5 81.1 L168.8 123" fill="none" stroke="#000" stroke-width="1.3" stroke-linejoin="round"/>
<path d="M36.5 31 L62.5 34.3 L90.7 36 L115.8 55.5 L143.5 109.8 L168.8 167 L196.3 170.8 L249.4 172.4" fill="none" stroke="#000" stroke-width="1.3" stroke-linejoin="round"/>
<path d="M36.5 42.9 L90.7 36.5 L115.8 41 L143.5 42.1 L196.4 147.2 L249.4 173.3" fill="none" stroke="#000" stroke-width="1.3" stroke-linejoin="round"/>
<path d="M36.5 49.6 L90.7 38 L115.8 54 L143.5 96 L168.8 162 L196.3 168.5" fill="none" stroke="#000" stroke-width="1.3" stroke-linejoin="round"/>
<path d="M90.7 26.9 L115.8 42.1 L143.5 91 L168.8 158.5 L196.3 167.5 L249.4 165.8" fill="none" stroke="#000" stroke-width="1.3" stroke-linejoin="round"/>
<line x1="63.5" y1="236.8" x2="63.5" y2="269.1" stroke-width="1"/>
<line x1="62" y1="236.8" x2="65" y2="236.8" stroke-width="1"/>
<line x1="62" y1="269.1" x2="65" y2="269.1" stroke-width="1"/>
<line x1="91.5" y1="224.5" x2="91.5" y2="259.8" stroke-width="1"/>
<line x1="90" y1="224.5" x2="93" y2="224.5" stroke-width="1"/>
<line x1="90" y1="259.8" x2="93" y2="259.8" stroke-width="1"/>
<line x1="116.5" y1="235.6" x2="116.5" y2="297" stroke-width="1"/>
<line x1="115" y1="235.6" x2="118" y2="235.6" stroke-width="1"/>
<line x1="115" y1="297" x2="118" y2="297" stroke-width="1"/>
<line x1="116.5" y1="297" x2="116.5" y2="340" stroke-width="1"/>
<line x1="115" y1="297" x2="118" y2="297" stroke-width="1"/>
<line x1="115" y1="340" x2="118" y2="340" stroke-width="1"/>
<line x1="144.5" y1="228.4" x2="144.5" y2="254" stroke-width="1"/>
<line x1="143" y1="228.4" x2="146" y2="228.4" stroke-width="1"/>
<line x1="143" y1="254" x2="146" y2="254" stroke-width="1"/>
<line x1="144.5" y1="337.8" x2="144.5" y2="363.5" stroke-width="1"/>
<line x1="143" y1="337.8" x2="146" y2="337.8" stroke-width="1"/>
<line x1="143" y1="363.5" x2="146" y2="363.5" stroke-width="1"/>
<line x1="169.5" y1="222.7" x2="169.5" y2="238" stroke-width="1"/>
<line x1="168" y1="222.7" x2="171" y2="222.7" stroke-width="1"/>
<line x1="168" y1="238" x2="171" y2="238" stroke-width="1"/>
<line x1="169.5" y1="250" x2="169.5" y2="296.5" stroke-width="1"/>
<line x1="168" y1="250" x2="171" y2="250" stroke-width="1"/>
<line x1="168" y1="296.5" x2="171" y2="296.5" stroke-width="1"/>
<line x1="169.5" y1="303" x2="169.5" y2="361.3" stroke-width="1"/>
<line x1="168" y1="303" x2="171" y2="303" stroke-width="1"/>
<line x1="168" y1="361.3" x2="171" y2="361.3" stroke-width="1"/>
<line x1="196.5" y1="226" x2="196.5" y2="264" stroke-width="1"/>
<line x1="195" y1="226" x2="198" y2="226" stroke-width="1"/>
<line x1="195" y1="264" x2="198" y2="264" stroke-width="1"/>
<line x1="197.5" y1="337.4" x2="197.5" y2="373.3" stroke-width="1"/>
<line x1="196" y1="337.4" x2="199" y2="337.4" stroke-width="1"/>
<line x1="196" y1="373.3" x2="199" y2="373.3" stroke-width="1"/>
<line x1="250.5" y1="213.5" x2="250.5" y2="306" stroke-width="1"/>
<line x1="249" y1="213.5" x2="252" y2="213.5" stroke-width="1"/>
<line x1="249" y1="306" x2="252" y2="306" stroke-width="1"/>
<line x1="250.5" y1="239.3" x2="250.5" y2="292.5" stroke-width="1"/>
<line x1="249" y1="239.3" x2="252" y2="239.3" stroke-width="1"/>
<line x1="249" y1="292.5" x2="252" y2="292.5" stroke-width="1"/>
<path d="M37.2 244.3 L63.3 245.1 L91.7 247.3 L116.8 248.5 L144.4 238.1 L169 230" fill="none" stroke="#000" stroke-width="1.3" stroke-linejoin="round"/>
<path d="M37.2 249.3 L63.3 246 L91.7 248 L116.8 249 L144.4 241.4 L196.5 250.5 L250 252" fill="none" stroke="#000" stroke-width="1.3" stroke-linejoin="round"/>
<path d="M37.2 244.5 L91.7 234.4 L116.8 266.7 L144.4 240 L169 266.7 L196.5 234.9 L250 259.1" fill="none" stroke="#000" stroke-width="1.3" stroke-linejoin="round"/>
<path d="M91.7 241.9 L116.8 244.3 L144.4 253 L169 250.8 L196.5 250.3 L250 246.2" fill="none" stroke="#000" stroke-width="1.3" stroke-linejoin="round"/>
<path d="M63.3 252.6 L91.7 253.3 L116.8 304.8 L144.6 349.8 L169.6 332 L197.4 355.2" fill="none" stroke="#000" stroke-width="1.3" stroke-linejoin="round"/>
<line x1="294.5" y1="80.5" x2="294.5" y2="102.3" stroke-width="1"/>
<line x1="293" y1="80.5" x2="296" y2="80.5" stroke-width="1"/>
<line x1="293" y1="102.3" x2="296" y2="102.3" stroke-width="1"/>
<line x1="294.5" y1="92" x2="294.5" y2="98.4" stroke-width="1"/>
<line x1="293" y1="92" x2="296" y2="92" stroke-width="1"/>
<line x1="293" y1="98.4" x2="296" y2="98.4" stroke-width="1"/>
<line x1="320.5" y1="71.3" x2="320.5" y2="79" stroke-width="1"/>
<line x1="319" y1="71.3" x2="322" y2="71.3" stroke-width="1"/>
<line x1="319" y1="79" x2="322" y2="79" stroke-width="1"/>
<line x1="320.5" y1="91.3" x2="320.5" y2="123.2" stroke-width="1"/>
<line x1="319" y1="91.3" x2="322" y2="91.3" stroke-width="1"/>
<line x1="319" y1="123.2" x2="322" y2="123.2" stroke-width="1"/>
<line x1="347.5" y1="62" x2="347.5" y2="113.7" stroke-width="1"/>
<line x1="346" y1="62" x2="349" y2="62" stroke-width="1"/>
<line x1="346" y1="113.7" x2="349" y2="113.7" stroke-width="1"/>
<line x1="372.5" y1="62" x2="372.5" y2="103.7" stroke-width="1"/>
<line x1="371" y1="62" x2="374" y2="62" stroke-width="1"/>
<line x1="371" y1="103.7" x2="374" y2="103.7" stroke-width="1"/>
<line x1="372.5" y1="116.7" x2="372.5" y2="136" stroke-width="1"/>
<line x1="371" y1="116.7" x2="374" y2="116.7" stroke-width="1"/>
<line x1="371" y1="136" x2="374" y2="136" stroke-width="1"/>
<line x1="400.5" y1="56.2" x2="400.5" y2="120.5" stroke-width="1"/>
<line x1="399" y1="56.2" x2="402" y2="56.2" stroke-width="1"/>
<line x1="399" y1="120.5" x2="402" y2="120.5" stroke-width="1"/>
<line x1="400.5" y1="156.5" x2="400.5" y2="167.5" stroke-width="1"/>
<line x1="399" y1="156.5" x2="402" y2="156.5" stroke-width="1"/>
<line x1="399" y1="167.5" x2="402" y2="167.5" stroke-width="1"/>
<line x1="425.5" y1="45.2" x2="425.5" y2="86.4" stroke-width="1"/>
<line x1="424" y1="45.2" x2="427" y2="45.2" stroke-width="1"/>
<line x1="424" y1="86.4" x2="427" y2="86.4" stroke-width="1"/>
<line x1="425.5" y1="165" x2="425.5" y2="172" stroke-width="1"/>
<line x1="424" y1="165" x2="427" y2="165" stroke-width="1"/>
<line x1="424" y1="172" x2="427" y2="172" stroke-width="1"/>
<line x1="453.5" y1="12.8" x2="453.5" y2="82.4" stroke-width="1"/>
<line x1="452" y1="12.8" x2="455" y2="12.8" stroke-width="1"/>
<line x1="452" y1="82.4" x2="455" y2="82.4" stroke-width="1"/>
<line x1="454.5" y1="160.4" x2="454.5" y2="167.5" stroke-width="1"/>
<line x1="453" y1="160.4" x2="456" y2="160.4" stroke-width="1"/>
<line x1="453" y1="167.5" x2="456" y2="167.5" stroke-width="1"/>
<line x1="507.5" y1="3.4" x2="507.5" y2="106.4" stroke-width="1"/>
<line x1="506" y1="3.4" x2="509" y2="3.4" stroke-width="1"/>
<line x1="506" y1="106.4" x2="509" y2="106.4" stroke-width="1"/>
<path d="M294.7 85.9 L320.3 107.7 L347.9 106.6 L372.8 127.3 L400.7 162.1 L425.5 171.8" fill="none" stroke="#000" stroke-width="1.3" stroke-linejoin="round"/>
<path d="M294.7 92.3 L320.3 78.1 L347.9 80.1 L372.8 66.4 L400.4 99.3 L425.5 169.6 L454 164 L479 171.8" fill="none" stroke="#000" stroke-width="1.3" stroke-linejoin="round"/>
<path d="M294.7 87.3 L347.9 76.5 L400.4 78.6 L453.4 77.7 L507.6 73.9" fill="none" stroke="#000" stroke-width="1.3" stroke-linejoin="round"/>
<path d="M294.7 89.5 L347.9 80.5 L372.8 77 L400.4 76.1 L426 57.2 L453.4 59 L507.6 87.8" fill="none" stroke="#000" stroke-width="1.3" stroke-linejoin="round"/>
<path d="M347.9 87.2 L372.8 84.8 L400.4 79 L426 66 L453.4 42 L507.6 15.4" fill="none" stroke="#000" stroke-width="1.3" stroke-linejoin="round"/>
<line x1="294.5" y1="240" x2="294.5" y2="265.3" stroke-width="1"/>
<line x1="293" y1="240" x2="296" y2="240" stroke-width="1"/>
<line x1="293" y1="265.3" x2="296" y2="265.3" stroke-width="1"/>
<line x1="320.5" y1="240.7" x2="320.5" y2="266.2" stroke-width="1"/>
<line x1="319" y1="240.7" x2="322" y2="240.7" stroke-width="1"/>
<line x1="319" y1="266.2" x2="322" y2="266.2" stroke-width="1"/>
<line x1="320.5" y1="256" x2="320.5" y2="260.6" stroke-width="1"/>
<line x1="319" y1="256" x2="322" y2="256" stroke-width="1"/>
<line x1="319" y1="260.6" x2="322" y2="260.6" stroke-width="1"/>
<line x1="347.5" y1="237.7" x2="347.5" y2="257.2" stroke-width="1"/>
<line x1="346" y1="237.7" x2="349" y2="237.7" stroke-width="1"/>
<line x1="346" y1="257.2" x2="349" y2="257.2" stroke-width="1"/>
<line x1="372.5" y1="234.3" x2="372.5" y2="244" stroke-width="1"/>
<line x1="371" y1="234.3" x2="374" y2="234.3" stroke-width="1"/>
<line x1="371" y1="244" x2="374" y2="244" stroke-width="1"/>
<line x1="372.5" y1="252" x2="372.5" y2="292.6" stroke-width="1"/>
<line x1="371" y1="252" x2="374" y2="252" stroke-width="1"/>
<line x1="371" y1="292.6" x2="374" y2="292.6" stroke-width="1"/>
<line x1="400.5" y1="231.8" x2="400.5" y2="271.4" stroke-width="1"/>
<line x1="399" y1="231.8" x2="402" y2="231.8" stroke-width="1"/>
<line x1="399" y1="271.4" x2="402" y2="271.4" stroke-width="1"/>
<line x1="401.5" y1="296.2" x2="401.5" y2="354.3" stroke-width="1"/>
<line x1="400" y1="296.2" x2="403" y2="296.2" stroke-width="1"/>
<line x1="400" y1="354.3" x2="403" y2="354.3" stroke-width="1"/>
<line x1="425.5" y1="248" x2="425.5" y2="255.3" stroke-width="1"/>
<line x1="424" y1="248" x2="427" y2="248" stroke-width="1"/>
<line x1="424" y1="255.3" x2="427" y2="255.3" stroke-width="1"/>
<line x1="425.5" y1="277.3" x2="425.5" y2="313.3" stroke-width="1"/>
<line x1="424" y1="277.3" x2="427" y2="277.3" stroke-width="1"/>
<line x1="424" y1="313.3" x2="427" y2="313.3" stroke-width="1"/>
<line x1="454.5" y1="257.7" x2="454.5" y2="269.6" stroke-width="1"/>
<line x1="453" y1="257.7" x2="456" y2="257.7" stroke-width="1"/>
<line x1="453" y1="269.6" x2="456" y2="269.6" stroke-width="1"/>
<line x1="454.5" y1="276" x2="454.5" y2="320.6" stroke-width="1"/>
<line x1="453" y1="276" x2="456" y2="276" stroke-width="1"/>
<line x1="453" y1="320.6" x2="456" y2="320.6" stroke-width="1"/>
<line x1="507.5" y1="256.3" x2="507.5" y2="285.3" stroke-width="1"/>
<line x1="506" y1="256.3" x2="509" y2="256.3" stroke-width="1"/>
<line x1="506" y1="285.3" x2="509" y2="285.3" stroke-width="1"/>
<line x1="507.5" y1="312.5" x2="507.5" y2="386" stroke-width="1"/>
<line x1="506" y1="312.5" x2="509" y2="312.5" stroke-width="1"/>
<line x1="506" y1="386" x2="509" y2="386" stroke-width="1"/>
<path d="M294.5 246.3 L320.3 248.3 L347.9 247.5 L372.8 243 L400.4 236.2 L425.5 251.1 L454 263.6 L507.7 269.9" fill="none" stroke="#000" stroke-width="1.3" stroke-linejoin="round"/>
<path d="M294.5 249.3 L320.3 250.5 L347.9 250.5 L372.8 244 L400.4 242.4 L454 290.7 L507.7 357.8" fill="none" stroke="#000" stroke-width="1.3" stroke-linejoin="round"/>
<path d="M294.5 253.8 L320.3 256 L347.9 250 L372.8 239.5 L400.4 258.8 L425.5 302.3" fill="none" stroke="#000" stroke-width="1.3" stroke-linejoin="round"/>
<path d="M294.5 242.4 L320.3 246 L347.9 247 L372.8 271.2 L400.4 259 L425.5 291.7 L454 312.8 L507.7 325.9" fill="none" stroke="#000" stroke-width="1.3" stroke-linejoin="round"/>
<path d="M294.5 246 L320.3 248.3 L347.9 248 L372.8 271.4 L401.1 325.4 L425.6 385.6 L454.5 382.2" fill="none" stroke="#000" stroke-width="1.3" stroke-linejoin="round"/>
</g>
<path d="M36.5 28.25L39.25 31L36.5 33.75L33.75 31Z" fill="#000"/>
<path d="M62.5 31.55L65.25 34.3L62.5 37.05L59.75 34.3Z" fill="#000"/>
<path d="M90.7 33.25L93.45 36L90.7 38.75L87.95 36Z" fill="#000"/>
<path d="M115.8 52.75L118.55 55.5L115.8 58.25L113.05 55.5Z" fill="#000"/>
<path d="M143.5 107.05L146.25 109.8L143.5 112.55L140.75 109.8Z" fill="#000"/>
<path d="M168.8 164.25L171.55 167L168.8 169.75L166.05 167Z" fill="#000"/>
<path d="M196.3 168.05L199.05 170.8L196.3 173.55L193.55 170.8Z" fill="#000"/>
<path d="M249.4 169.65L252.15 172.4L249.4 175.15L246.65 172.4Z" fill="#000"/>
<circle cx="36.5" cy="49.6" r="2.7" fill="#000"/>
<circle cx="90.7" cy="38" r="2.7" fill="#000"/>
<circle cx="115.8" cy="54" r="2.7" fill="#000"/>
<circle cx="143.5" cy="96" r="2.7" fill="#000"/>
<circle cx="168.8" cy="162" r="2.7" fill="#000"/>
<circle cx="196.3" cy="168.5" r="2.7" fill="#000"/>
<rect x="88" y="24.2" width="5.4" height="5.4" fill="#000"/>
<rect x="113.1" y="39.4" width="5.4" height="5.4" fill="#000"/>
<rect x="140.8" y="88.3" width="5.4" height="5.4" fill="#000"/>
<rect x="166.1" y="155.8" width="5.4" height="5.4" fill="#000"/>
<rect x="193.6" y="164.8" width="5.4" height="5.4" fill="#000"/>
<rect x="246.7" y="163.1" width="5.4" height="5.4" fill="#000"/>
<circle cx="36.5" cy="42.9" r="2.15" fill="#fff" stroke="#000" stroke-width="1.1"/>
<circle cx="143.5" cy="42.1" r="2.15" fill="#fff" stroke="#000" stroke-width="1.1"/>
<circle cx="196.4" cy="147.2" r="2.15" fill="#fff" stroke="#000" stroke-width="1.1"/>
<circle cx="249.4" cy="173.3" r="2.15" fill="#fff" stroke="#000" stroke-width="1.1"/>
<rect x="34.35" y="20.85" width="4.3" height="4.3" fill="#fff" stroke="#000" stroke-width="1.1"/>
<rect x="60.35" y="21.35" width="4.3" height="4.3" fill="#fff" stroke="#000" stroke-width="1.1"/>
<rect x="88.55" y="28.15" width="4.3" height="4.3" fill="#fff" stroke="#000" stroke-width="1.1"/>
<rect x="113.65" y="47.15" width="4.3" height="4.3" fill="#fff" stroke="#000" stroke-width="1.1"/>
<rect x="141.35" y="78.95" width="4.3" height="4.3" fill="#fff" stroke="#000" stroke-width="1.1"/>
<rect x="166.65" y="120.85" width="4.3" height="4.3" fill="#fff" stroke="#000" stroke-width="1.1"/>
<path d="M63.3 249.85L66.05 252.6L63.3 255.35L60.55 252.6Z" fill="#000"/>
<path d="M91.7 250.55L94.45 253.3L91.7 256.05L88.95 253.3Z" fill="#000"/>
<path d="M116.8 302.05L119.55 304.8L116.8 307.55L114.05 304.8Z" fill="#000"/>
<path d="M144.6 347.05L147.35 349.8L144.6 352.55L141.85 349.8Z" fill="#000"/>
<path d="M169.6 329.25L172.35 332L169.6 334.75L166.85 332Z" fill="#000"/>
<path d="M197.4 352.45L200.15 355.2L197.4 357.95L194.65 355.2Z" fill="#000"/>
<circle cx="37.2" cy="244.5" r="2.7" fill="#000"/>
<circle cx="91.7" cy="234.4" r="2.7" fill="#000"/>
<circle cx="116.8" cy="266.7" r="2.7" fill="#000"/>
<circle cx="144.4" cy="240" r="2.7" fill="#000"/>
<circle cx="169" cy="266.7" r="2.7" fill="#000"/>
<circle cx="196.5" cy="234.9" r="2.7" fill="#000"/>
<circle cx="250" cy="259.1" r="2.7" fill="#000"/>
<circle cx="37.2" cy="249.3" r="2.15" fill="#fff" stroke="#000" stroke-width="1.1"/>
<circle cx="63.3" cy="246" r="2.15" fill="#fff" stroke="#000" stroke-width="1.1"/>
<circle cx="91.7" cy="248" r="2.15" fill="#fff" stroke="#000" stroke-width="1.1"/>
<circle cx="116.8" cy="249" r="2.15" fill="#fff" stroke="#000" stroke-width="1.1"/>
<circle cx="144.4" cy="241.4" r="2.15" fill="#fff" stroke="#000" stroke-width="1.1"/>
<circle cx="250" cy="252" r="2.15" fill="#fff" stroke="#000" stroke-width="1.1"/>
<rect x="89" y="239.2" width="5.4" height="5.4" fill="#000"/>
<rect x="114.1" y="241.6" width="5.4" height="5.4" fill="#000"/>
<rect x="141.7" y="250.3" width="5.4" height="5.4" fill="#000"/>
<rect x="166.3" y="248.1" width="5.4" height="5.4" fill="#000"/>
<rect x="193.8" y="247.6" width="5.4" height="5.4" fill="#000"/>
<rect x="247.3" y="243.5" width="5.4" height="5.4" fill="#000"/>
<rect x="35.05" y="242.15" width="4.3" height="4.3" fill="#fff" stroke="#000" stroke-width="1.1"/>
<rect x="61.15" y="242.95" width="4.3" height="4.3" fill="#fff" stroke="#000" stroke-width="1.1"/>
<rect x="89.55" y="245.15" width="4.3" height="4.3" fill="#fff" stroke="#000" stroke-width="1.1"/>
<rect x="114.65" y="246.35" width="4.3" height="4.3" fill="#fff" stroke="#000" stroke-width="1.1"/>
<rect x="142.25" y="235.95" width="4.3" height="4.3" fill="#fff" stroke="#000" stroke-width="1.1"/>
<rect x="166.85" y="227.85" width="4.3" height="4.3" fill="#fff" stroke="#000" stroke-width="1.1"/>
<path d="M294.7 89.55L297.45 92.3L294.7 95.05L291.95 92.3Z" fill="#000"/>
<path d="M320.3 75.35L323.05 78.1L320.3 80.85L317.55 78.1Z" fill="#000"/>
<path d="M347.9 77.35L350.65 80.1L347.9 82.85L345.15 80.1Z" fill="#000"/>
<path d="M372.8 63.65L375.55 66.4L372.8 69.15L370.05 66.4Z" fill="#000"/>
<path d="M400.4 96.55L403.15 99.3L400.4 102.05L397.65 99.3Z" fill="#000"/>
<path d="M425.5 166.85L428.25 169.6L425.5 172.35L422.75 169.6Z" fill="#000"/>
<path d="M454 161.25L456.75 164L454 166.75L451.25 164Z" fill="#000"/>
<path d="M479 169.05L481.75 171.8L479 174.55L476.25 171.8Z" fill="#000"/>
<circle cx="347.9" cy="80.5" r="2.7" fill="#000"/>
<circle cx="372.8" cy="77" r="2.7" fill="#000"/>
<circle cx="400.4" cy="76.1" r="2.7" fill="#000"/>
<circle cx="426" cy="57.2" r="2.7" fill="#000"/>
<circle cx="453.4" cy="59" r="2.7" fill="#000"/>
<circle cx="507.6" cy="87.8" r="2.7" fill="#000"/>
<rect x="345.2" y="84.5" width="5.4" height="5.4" fill="#000"/>
<rect x="370.1" y="82.1" width="5.4" height="5.4" fill="#000"/>
<rect x="397.7" y="76.3" width="5.4" height="5.4" fill="#000"/>
<rect x="423.3" y="63.3" width="5.4" height="5.4" fill="#000"/>
<rect x="450.7" y="39.3" width="5.4" height="5.4" fill="#000"/>
<rect x="504.9" y="12.7" width="5.4" height="5.4" fill="#000"/>
<circle cx="347.9" cy="76.5" r="2.15" fill="#fff" stroke="#000" stroke-width="1.1"/>
<circle cx="453.4" cy="77.7" r="2.15" fill="#fff" stroke="#000" stroke-width="1.1"/>
<circle cx="507.6" cy="73.9" r="2.15" fill="#fff" stroke="#000" stroke-width="1.1"/>
<rect x="292.55" y="83.75" width="4.3" height="4.3" fill="#fff" stroke="#000" stroke-width="1.1"/>
<rect x="318.15" y="105.55" width="4.3" height="4.3" fill="#fff" stroke="#000" stroke-width="1.1"/>
<rect x="345.75" y="104.45" width="4.3" height="4.3" fill="#fff" stroke="#000" stroke-width="1.1"/>
<rect x="370.65" y="125.15" width="4.3" height="4.3" fill="#fff" stroke="#000" stroke-width="1.1"/>
<rect x="398.55" y="159.95" width="4.3" height="4.3" fill="#fff" stroke="#000" stroke-width="1.1"/>
<rect x="423.35" y="169.65" width="4.3" height="4.3" fill="#fff" stroke="#000" stroke-width="1.1"/>
<path d="M294.5 243.25L297.25 246L294.5 248.75L291.75 246Z" fill="#000"/>
<path d="M320.3 245.55L323.05 248.3L320.3 251.05L317.55 248.3Z" fill="#000"/>
<path d="M347.9 245.25L350.65 248L347.9 250.75L345.15 248Z" fill="#000"/>
<path d="M401.1 322.65L403.85 325.4L401.1 328.15L398.35 325.4Z" fill="#000"/>
<line x1="425.1" y1="382.6" x2="428.1" y2="382.6" stroke-width="1" stroke="#000"/>
<line x1="426.1" y1="382.6" x2="426.1" y2="385" stroke-width="1" stroke="#000"/>
<rect x="452.4" y="380.1" width="4.2" height="4.2" fill="#000"/>
<circle cx="294.5" cy="242.4" r="2.7" fill="#000"/>
<circle cx="347.9" cy="247" r="2.7" fill="#000"/>
<circle cx="372.8" cy="271.2" r="2.7" fill="#000"/>
<circle cx="400.4" cy="259" r="2.7" fill="#000"/>
<circle cx="425.5" cy="291.7" r="2.7" fill="#000"/>
<circle cx="454" cy="312.8" r="2.7" fill="#000"/>
<circle cx="507.7" cy="325.9" r="2.7" fill="#000"/>
<rect x="345.2" y="244.8" width="5.4" height="5.4" fill="#000"/>
<rect x="370.1" y="240.3" width="5.4" height="5.4" fill="#000"/>
<rect x="397.7" y="233.5" width="5.4" height="5.4" fill="#000"/>
<rect x="422.8" y="248.4" width="5.4" height="5.4" fill="#000"/>
<rect x="451.3" y="260.9" width="5.4" height="5.4" fill="#000"/>
<rect x="505" y="267.2" width="5.4" height="5.4" fill="#000"/>
<rect x="292.35" y="251.65" width="4.3" height="4.3" fill="#fff" stroke="#000" stroke-width="1.1"/>
<rect x="318.15" y="253.85" width="4.3" height="4.3" fill="#fff" stroke="#000" stroke-width="1.1"/>
<rect x="345.75" y="247.85" width="4.3" height="4.3" fill="#fff" stroke="#000" stroke-width="1.1"/>
<rect x="370.65" y="237.35" width="4.3" height="4.3" fill="#fff" stroke="#000" stroke-width="1.1"/>
<rect x="398.25" y="256.65" width="4.3" height="4.3" fill="#fff" stroke="#000" stroke-width="1.1"/>
<rect x="423.35" y="300.15" width="4.3" height="4.3" fill="#fff" stroke="#000" stroke-width="1.1"/>
<circle cx="294.5" cy="249.3" r="2.15" fill="#fff" stroke="#000" stroke-width="1.1"/>
<circle cx="347.9" cy="250.5" r="2.15" fill="#fff" stroke="#000" stroke-width="1.1"/>
<circle cx="400.4" cy="242.4" r="2.15" fill="#fff" stroke="#000" stroke-width="1.1"/>
<circle cx="454" cy="290.7" r="2.15" fill="#fff" stroke="#000" stroke-width="1.1"/>
<circle cx="507.7" cy="357.8" r="2.15" fill="#fff" stroke="#000" stroke-width="1.1"/>
<circle cx="320.3" cy="256" r="2.15" fill="#fff" stroke="#000" stroke-width="1.1"/>
<circle cx="294.7" cy="92" r="2.5" fill="#000"/>
<rect x="292.55" y="83.75" width="4.3" height="4.3" fill="#fff" stroke="#000" stroke-width="1.1"/>
</svg>
</body></html>
